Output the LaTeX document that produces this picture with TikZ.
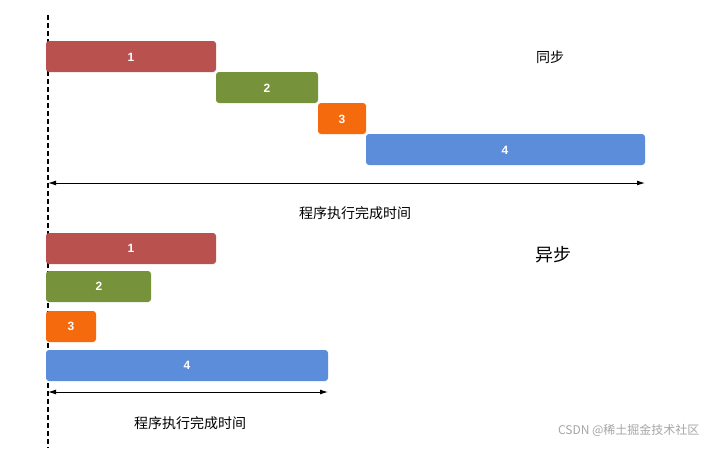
\documentclass[tikz,border=0pt]{standalone}
\usepackage{fontspec}
\setmainfont{Liberation Sans}
\newfontfamily\cjk{Noto Sans CJK SC}
\usetikzlibrary{arrows.meta}
\definecolor{cA}{HTML}{B9514E}
\definecolor{cB}{HTML}{76923A}
\definecolor{cC}{HTML}{F56A0D}
\definecolor{cD}{HTML}{5B8DDB}
\tikzset{bar/.style={text=white,font=\bfseries\fontsize{12}{14}\selectfont,inner sep=0pt},
span/.style={{Latex[length=8pt,width=5pt]}-{Latex[length=8pt,width=5pt]},line width=1pt},
lbl/.style={font=\cjk\fontsize{14}{16}\selectfont}}
\begin{document}
\begin{tikzpicture}[x=1pt,y=-1pt]
\useasboundingbox[fill=white] (0,0) rectangle (707,448);
\draw[dash pattern=on 5pt off 3pt,line width=1.6pt] (48,15) -- (48,448);
\fill[cA,rounded corners=3pt] (46,41) rectangle (216,72); \node[bar] (s1) at (131,57) {1};
\fill[cB,rounded corners=3pt] (216,72) rectangle (318,103); \node[bar] (s2) at (267,88) {2};
\fill[cC,rounded corners=3pt] (318,103) rectangle (366,134); \node[bar] (s3) at (342,119) {3};
\fill[cD,rounded corners=3pt] (366,134) rectangle (645,165); \node[bar] (s4) at (505,150) {4};
\coordinate (sa) at (48,183); \coordinate (sb) at (645,183);
\draw[span] (sa) -- (sb);
\node[lbl] (st) at (355,213) {程序执行完成时间};
\node[lbl] (sync) at (550,57) {同步};
\fill[cA,rounded corners=3pt] (46,233) rectangle (216,264); \node[bar] (a1) at (131,248) {1};
\fill[cB,rounded corners=3pt] (46,271) rectangle (151,302); \node[bar] (a2) at (99,286) {2};
\fill[cC,rounded corners=3pt] (46,311) rectangle (96,342); \node[bar] (a3) at (71,326) {3};
\fill[cD,rounded corners=3pt] (46,350) rectangle (328,381); \node[bar] (a4) at (187,365) {4};
\coordinate (aa) at (48,392); \coordinate (ab) at (328,392);
\draw[span] (aa) -- (ab);
\node[lbl] (at) at (190,423) {程序执行完成时间};
\node[lbl,font=\cjk\fontsize{18}{20}\selectfont] (async) at (553,255) {异步};
\node[text=gray!70,font=\cjk\fontsize{12}{14}\selectfont,anchor=east] (wm) at (703,430) {CSDN @稀土掘金技术社区};
\end{tikzpicture}
\end{document}
